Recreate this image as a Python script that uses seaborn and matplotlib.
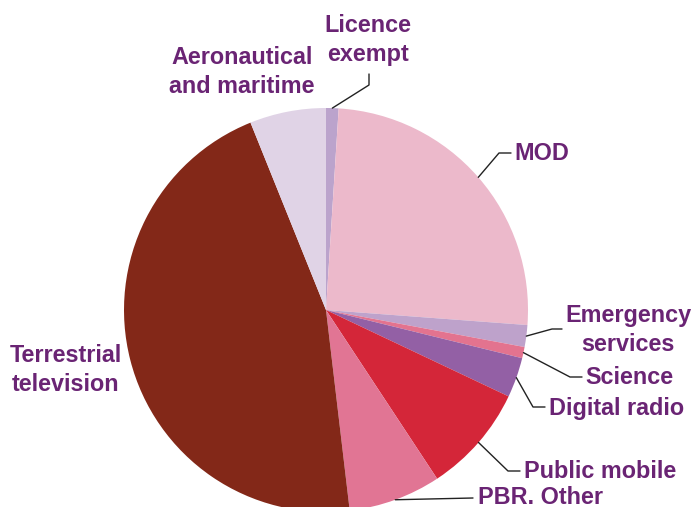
import numpy as np
import matplotlib
matplotlib.use('Agg')
import matplotlib.pyplot as plt
import seaborn as sns

# spectrum share by use (%), clockwise from the top
labels = ['Licence\nexempt', 'MOD', 'Emergency\nservices', 'Science', 'Digital radio',
          'Public mobile', 'PBR. Other', 'Terrestrial\ntelevision', 'Aeronautical\nand maritime']
shares = [1.0, 25.2, 1.75, 0.9, 3.2, 8.7, 7.4, 45.8, 6.1]
colors = ['#bba3cc', '#ecb9cb', '#bea2cb', '#e3738f', '#9360a5',
          '#d42639', '#e17594', '#832818', '#e0d3e6']

sns.set_theme(style='white')
plt.rcParams['font.family'] = ['Liberation Sans', 'DejaVu Sans']

W, H = 692, 507
fig = plt.figure(figsize=(W / 100, H / 100), dpi=100)
ax = fig.add_axes([0, 0, 1, 1])

cx, cy, r = 326, H - 310, 202
wedges, _ = ax.pie(shares, colors=colors, startangle=90, counterclock=False,
                   center=(cx, cy), radius=r, frame=True,
                   wedgeprops=dict(linewidth=0))
ax.set_xlim(0, W)
ax.set_ylim(0, H)
ax.set_aspect('equal')
ax.axis('off')

txt_color = '#6a2474'
fs = 16.8

# label layout in image pixels: (text x, text y, ha, elbow, line end); None = no leader
layout = {
    'Licence\nexempt': (368, 40, 'center', (369, 85), (369, 74)),
    'MOD': (514, 154, 'left', (499, 153), (511, 153)),
    'Emergency\nservices': (628, 330, 'center', (552, 329), (562, 329)),
    'Science': (585, 378, 'left', (570, 377), (582, 377)),
    'Digital radio': (549, 408, 'left', (533, 407), (545, 407)),
    'Public mobile': (524, 471, 'left', (508, 471), (520, 471)),
    'PBR. Other': (478, 497, 'left', (473, 498), (473, 498)),
    'Terrestrial\ntelevision': (66, 370, 'center', None, None),
    'Aeronautical\nand maritime': (242, 72, 'center', None, None),
}

for w, lab in zip(wedges, labels):
    tx, ty, ha, elbow, end = layout[lab]
    ax.text(tx, H - ty, lab, ha=ha, va='center', fontsize=fs, fontweight='bold',
            color=txt_color, linespacing=1.3)
    if elbow is not None:
        mid = np.deg2rad((w.theta1 + w.theta2) / 2)
        sx, sy = cx + r * np.cos(mid), cy + r * np.sin(mid)
        ax.plot([sx, elbow[0], end[0]], [sy, H - elbow[1], H - end[1]],
                color='#222222', lw=1)

fig.savefig('out.png', dpi=100)
